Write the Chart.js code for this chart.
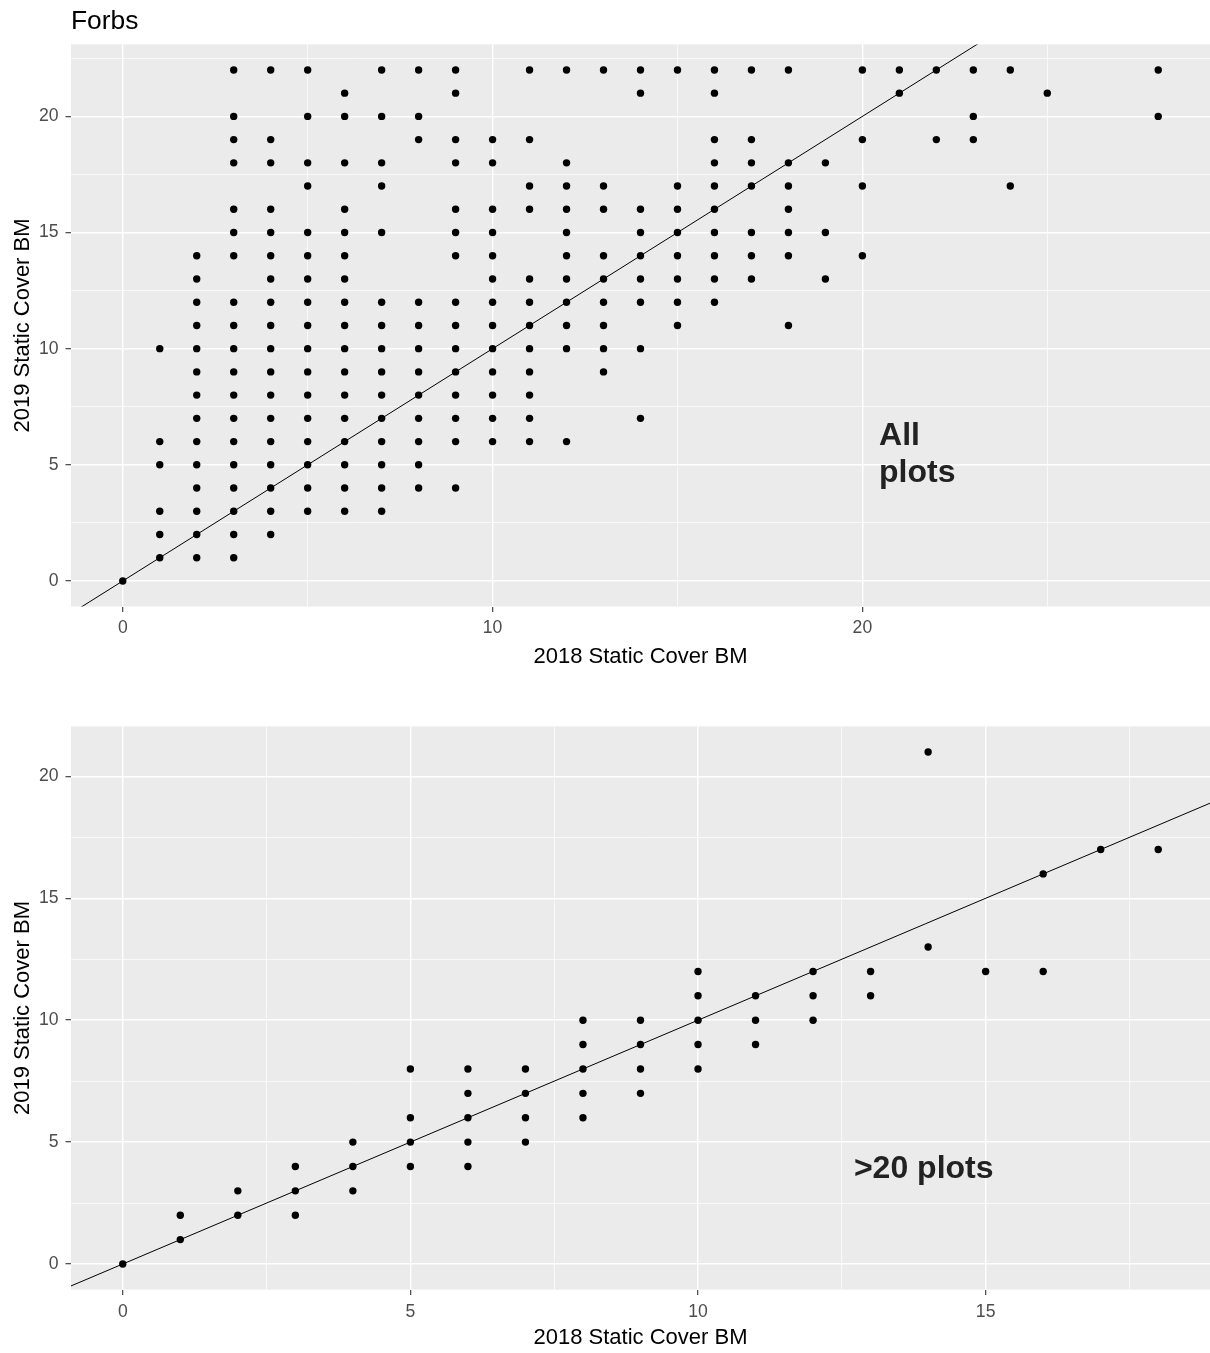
<!DOCTYPE html>
<html>
<head>
<meta charset="utf-8">
<script src="https://cdn.jsdelivr.net/npm/chart.js@4.4.1/dist/chart.umd.min.js"></script>
<style>
  html, body { margin: 0; padding: 0; background: #fff; overflow: hidden; }
  canvas { position: absolute; left: 0; }
  #allChart { top: 0; }
  #bigChart { top: 690px; }
</style>
</head>
<body>
<canvas id="allChart" width="1210" height="690"></canvas>
<canvas id="bigChart" width="1210" height="663"></canvas>
<script>
// All plots: 2018 cover values and the 2019 values found at each of them
const all2018 = [0, 1, 2, 3, 4, 5, 6, 7, 8, 9, 10, 11, 12, 13, 14, 15, 16, 17, 18, 19, 20, 21, 22, 23, 24, 25, 28];
const all2019 = [
    [0],
    [1, 2, 3, 5, 6, 10],
    [1, 2, 3, 4, 5, 6, 7, 8, 9, 10, 11, 12, 13, 14],
    [1, 2, 3, 4, 5, 6, 7, 8, 9, 10, 11, 12, 14, 15, 16, 18, 19, 20, 22],
    [2, 3, 4, 5, 6, 7, 8, 9, 10, 11, 12, 13, 14, 15, 16, 18, 19, 22],
    [3, 4, 5, 6, 7, 8, 9, 10, 11, 12, 13, 14, 15, 17, 18, 20, 22],
    [3, 4, 5, 6, 7, 8, 9, 10, 11, 12, 13, 14, 15, 16, 18, 20, 21],
    [3, 4, 5, 6, 7, 8, 9, 10, 11, 12, 15, 17, 18, 20, 22],
    [4, 5, 6, 7, 8, 9, 10, 11, 12, 19, 20, 22],
    [4, 6, 7, 8, 9, 10, 11, 12, 14, 15, 16, 18, 19, 21, 22],
    [6, 7, 8, 9, 10, 11, 12, 13, 14, 15, 16, 18, 19],
    [6, 7, 8, 9, 10, 11, 12, 13, 16, 17, 19, 22],
    [6, 10, 11, 12, 13, 14, 15, 16, 17, 18, 22],
    [9, 10, 11, 12, 13, 14, 16, 17, 22],
    [7, 10, 12, 13, 14, 15, 16, 21, 22],
    [11, 12, 13, 14, 15, 16, 17, 22],
    [12, 13, 14, 15, 16, 17, 18, 19, 21, 22],
    [13, 14, 15, 17, 18, 19, 22],
    [11, 14, 15, 16, 17, 18, 22],
    [13, 15, 18],
    [14, 17, 19, 22],
    [21, 22],
    [19, 22],
    [19, 20, 22],
    [17, 22],
    [21],
    [20, 22]
];

// Plots with more than 20 records
const big2018 = [0, 1, 2, 3, 4, 5, 6, 7, 8, 9, 10, 11, 12, 13, 14, 15, 16, 17, 18];
const big2019 = [
    [0],
    [1, 2],
    [2, 3],
    [2, 3, 4],
    [3, 4, 5],
    [4, 5, 6, 8],
    [4, 5, 6, 7, 8],
    [5, 6, 7, 8],
    [6, 7, 8, 9, 10],
    [7, 8, 9, 10],
    [8, 9, 10, 11, 12],
    [9, 10, 11],
    [10, 11, 12],
    [11, 12],
    [13, 21],
    [12],
    [12, 16],
    [17],
    [17]
];

// Grid lines (major ones get a label)
const allXGrid = [0, 5, 10, 15, 20, 25];
const allXLabels = [0, 10, 20];
const allYGrid = [0, 2.5, 5, 7.5, 10, 12.5, 15, 17.5, 20, 22.5];
const allYLabels = [0, 5, 10, 15, 20];
const bigXGrid = [0, 2.5, 5, 7.5, 10, 12.5, 15, 17.5];
const bigXLabels = [0, 5, 10, 15];
const bigYGrid = [0, 2.5, 5, 7.5, 10, 12.5, 15, 17.5, 20];
const bigYLabels = [0, 5, 10, 15, 20];

const FONT = '"Liberation Sans", Arial, sans-serif';

function toPoints(xs, ys) {
    const pts = [];
    xs.forEach((x, i) => ys[i].forEach(y => pts.push({ x: x, y: y })));
    return pts;
}

// ggplot style 5% expansion of the data range
function expand(vals) {
    const lo = Math.min(...vals), hi = Math.max(...vals);
    const pad = (hi - lo) * 0.05;
    return [lo - pad, hi + pad];
}

function axis(range, grid, labels, text, horizontal, titlePad) {
    const isMajor = v => labels.includes(v);
    return {
        type: 'linear',
        min: range[0],
        max: range[1],
        afterBuildTicks: s => { s.ticks = grid.map(v => ({ value: v })); },
        afterFit: s => {
            if (horizontal) s.height = 63; else s.width = 71;
            s.paddingLeft = s.paddingRight = s.paddingTop = s.paddingBottom = 0;
        },
        border: { display: false },
        grid: {
            color: '#FFFFFF',
            lineWidth: c => (c.tick && isMajor(c.tick.value)) ? 1.4 : 0.7,
            tickLength: 5.5,
            tickWidth: 1.1,
            tickColor: c => (c.tick && isMajor(c.tick.value)) ? '#333333' : 'rgba(0,0,0,0)'
        },
        ticks: {
            autoSkip: false,
            maxRotation: 0,
            padding: horizontal ? 6 : 7,
            color: '#4D4D4D',
            font: { family: FONT, size: 17.6 },
            callback: v => isMajor(v) ? String(v) : ''
        },
        title: {
            display: true,
            text: text,
            color: '#000000',
            font: { family: FONT, size: 22 },
            padding: titlePad
        }
    };
}

// grey panel behind the grid
const panelBg = {
    id: 'panelBg',
    beforeDraw(chart) {
        const { ctx, chartArea: a } = chart;
        ctx.save();
        ctx.fillStyle = '#EBEBEB';
        ctx.fillRect(a.left, a.top, a.right - a.left, a.bottom - a.top);
        ctx.restore();
    }
};

// bold text note placed in data units
const noteText = {
    id: 'noteText',
    afterDatasetsDraw(chart, args, opts) {
        if (!opts.lines) return;
        const { ctx } = chart;
        const px = chart.scales.x.getPixelForValue(opts.x);
        const py = chart.scales.y.getPixelForValue(opts.y);
        ctx.save();
        ctx.font = 'bold 32px ' + FONT;
        ctx.fillStyle = '#222222';
        ctx.textAlign = 'left';
        ctx.textBaseline = 'alphabetic';
        opts.lines.forEach((t, i) => ctx.fillText(t, px, py + i * 37));
        ctx.restore();
    }
};

function makeChart(id, xs, ys, grids, note, title, padding, xTitleBottom) {
    const xr = expand(xs);
    const yr = expand(ys.flat());
    return new Chart(document.getElementById(id), {
        type: 'scatter',
        data: {
            datasets: [{
                data: toPoints(xs, ys),
                pointRadius: 3.7,
                pointHoverRadius: 3.7,
                backgroundColor: '#000000',
                borderWidth: 0
            }, {
                // 1:1 reference line
                data: [{ x: xr[0], y: xr[0] }, { x: xr[1], y: xr[1] }],
                showLine: true,
                borderColor: '#000000',
                borderWidth: 1,
                pointRadius: 0
            }]
        },
        options: {
            responsive: false,
            animation: false,
            layout: { padding: padding, autoPadding: false },
            scales: {
                x: axis(xr, grids[0], grids[1], '2018 Static Cover BM', true, { top: 0, bottom: xTitleBottom }),
                y: axis(yr, grids[2], grids[3], '2019 Static Cover BM', false, { top: 10, bottom: 0 })
            },
            plugins: {
                legend: { display: false },
                tooltip: { enabled: false },
                title: title,
                noteText: note
            }
        },
        plugins: [panelBg, noteText]
    });
}

makeChart('allChart', all2018, all2019,
    [allXGrid, allXLabels, allYGrid, allYLabels],
    { lines: ['All', 'plots'], x: 20.45, y: 5.85 },
    {
        display: true,
        text: 'Forbs',
        align: 'start',
        fullSize: false,
        color: '#000000',
        font: { family: FONT, size: 26.4, weight: 'normal' },
        padding: { top: 6, bottom: 6.7 }
    },
    { top: 0, right: 0, bottom: 20.5, left: 0 }, -0.7);

makeChart('bigChart', big2018, big2019,
    [bigXGrid, bigXLabels, bigYGrid, bigYLabels],
    { lines: ['>20 plots'], x: 12.71, y: 3.53 },
    { display: false },
    { top: 36.4, right: 0, bottom: 0.4, left: 0 }, 1.3);
</script>
</body>
</html>
